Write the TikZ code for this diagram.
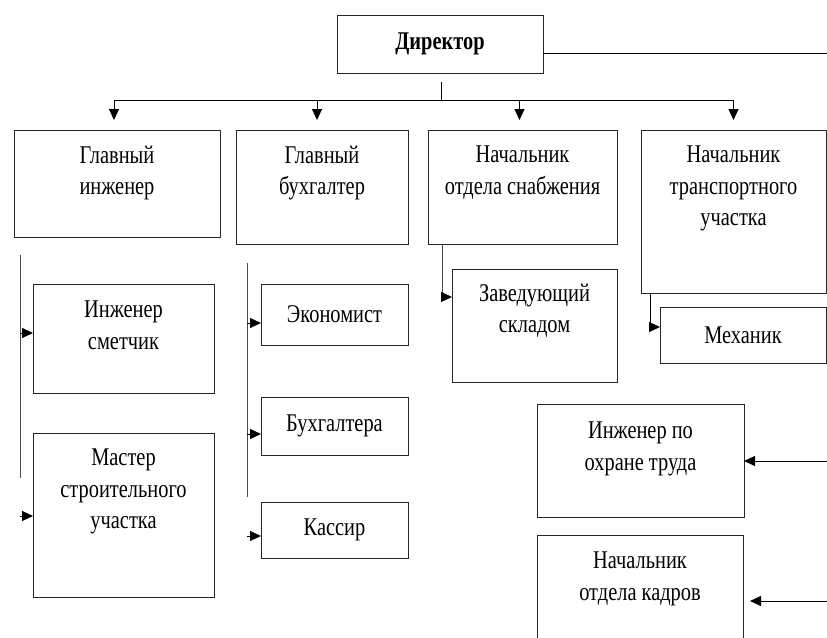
\documentclass[tikz,border=0pt]{standalone}
\usepackage{fontspec}
\setmainfont{Liberation Serif}
\newfontfamily\orgfont[FakeStretch=0.8]{Liberation Serif}
\usetikzlibrary{arrows.meta,positioning}

\begin{document}
\begin{tikzpicture}[x=1pt, y=-1pt, >={Triangle[length=11pt,width=10pt]},
		every node/.style={font=\orgfont\fontsize{25.5}{31.5}\selectfont},
		box/.style={draw=black!85, line width=1pt, inner sep=0pt, outer sep=0pt},
		lbl/.style={align=center, inner sep=0pt, outer sep=0pt},
		rail/.style={line width=0.8pt, black!70}]
				\useasboundingbox (0,0) rectangle (827,637);
				\clip (0,0) rectangle (827,637);

				\node[box, minimum width=206pt, minimum height=58pt] (dir) at (440,44) {\textbf{Директор}};

				\node[box, minimum width=206pt, minimum height=107pt] (ing) at (117,183.5) {};
				\node[box, minimum width=172pt, minimum height=114pt] (buh) at (322,187) {};
				\node[box, minimum width=189pt, minimum height=114pt] (snab) at (522.5,187) {};
				\node[box, minimum width=185pt, minimum height=163pt] (trans) at (733.5,211.5) {};
				\node[lbl, below=16pt of ing.north] (ing-t) {Главный\\инженер};
				\node[lbl, below=16pt of buh.north] (buh-t) {Главный\\бухгалтер};
				\node[lbl, below=16pt of snab.north] (snab-t) {Начальник\\отдела снабжения};
				\node[lbl, below=16pt of trans.north] (trans-t) {Начальник\\транспортного\\участка};

				\node[box, minimum width=181pt, minimum height=109pt] (smet) at (123.5,338.5) {};
				\node[box, minimum width=181pt, minimum height=164pt] (mast) at (123.5,515) {};
				\node[lbl, below=17pt of smet.north] (smet-t) {Инженер\\сметчик};
				\node[lbl, below=16pt of mast.north] (mast-t) {Мастер\\строительного\\участка};

				\node[box, minimum width=147pt, minimum height=61pt] (econ) at (334.5,314.5) {Экономист};
				\node[box, minimum width=147pt, minimum height=58pt] (bux) at (334.5,426) {Бухгалтера};
				\node[box, minimum width=147pt, minimum height=56pt] (kass) at (334.5,530) {Кассир};

				\node[box, minimum width=165pt, minimum height=113pt] (sklad) at (534.5,325.5) {};
				\node[lbl, below=15pt of sklad.north] (sklad-t) {Заведующий\\складом};
				\node[box, minimum width=166pt, minimum height=56pt] (mech) at (743,335) {Механик};

				\node[box, minimum width=207pt, minimum height=113pt] (ohr) at (640.5,460.5) {};
				\node[box, minimum width=206pt, minimum height=120pt] (kadr) at (640,595) {};
				\node[lbl, below=18pt of ohr.north] (ohr-t) {Инженер по\\охране труда};
				\node[lbl, below=17pt of kadr.north] (kadr-t) {Начальник\\отдела кадров};

				\coordinate (rt) at (827,53);
				\coordinate (bus) at (441,100);
				\draw[line width=1pt] ([yshift=-9pt]dir.east) -- (rt);
				\draw[line width=1pt] ([yshift=-9pt]bus |- dir.south) -- (bus);
				\draw[->, line width=1pt] (bus) -| ([xshift=-3pt, yshift=10pt]ing.north);
				\draw[->, line width=1pt] (bus) -| ([xshift=-5pt, yshift=10pt]buh.north);
				\draw[->, line width=1pt] (bus) -| ([xshift=-3pt, yshift=10pt]snab.north);
				\draw[->, line width=1pt] (bus) -| ([yshift=10pt]trans.north);

				\coordinate (l1) at (20,255);
				\coordinate (l2) at (20,478);
				\coordinate (a1) at (20,333);
				\coordinate (a2) at (20,516);
				\draw[rail] (l1) -- (l2);
				\draw[->, line width=0.9pt] (a1) -- (a1 -| smet.west);
				\draw[->, line width=0.9pt] (a2) -- (a2 -| mast.west);

				\coordinate (m1) at (247,263);
				\coordinate (m2) at (247,497);
				\coordinate (b1) at (247,323);
				\coordinate (b2) at (247,434);
				\coordinate (b3) at (247,536);
				\draw[rail] (m1) -- (m2);
				\draw[->, line width=0.9pt] (b1) -- (b1 -| econ.west);
				\draw[->, line width=0.9pt] (b2) -- (b2 -| bux.west);
				\draw[->, line width=0.9pt] (b3) -- (b3 -| kass.west);

				\coordinate (s1) at (442,297);
				\draw[rail] (s1 |- snab.south) -- (s1);
				\draw[->, line width=0.9pt] (s1) -- (s1 -| sklad.west);
				\coordinate (t1) at (650,327);
				\draw[->, line width=0.9pt] (t1 |- trans.south) -- (t1) -- (t1 -| mech.west);

				\coordinate (r1) at (827,461);
				\coordinate (r2) at (827,601);
				\coordinate (r2e) at (750,601);
				\draw[->, line width=1pt] (r1) -- (r1 -| ohr.east);
				\draw[->, line width=1pt] (r2) -- (r2e);

			\end{tikzpicture}
\end{document}
